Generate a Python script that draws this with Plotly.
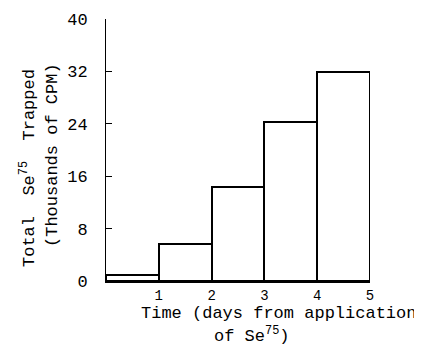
import plotly.graph_objects as go

# Data
day_centers = [0.5, 1.5, 2.5, 3.5, 4.5]
se_trapped = [0.9, 5.7, 14.3, 24.3, 31.9]  # thousands of CPM
x_tick_vals = [1, 2, 3, 4, 5]
x_tick_text = ["1", "2", "3", "4", "5"]
y_tick_vals = [0, 8, 16, 24, 32, 40]
y_tick_text = ["0", "8", "16", "24", "32", "40"]

FONT = "Liberation Mono, DejaVu Sans Mono, monospace"
OFF = 8  # page body margin offset

L, R, T, B = 106 - OFF, 370 - OFF, 19 - OFF, 281 - OFF
W, H = 422 - OFF, 352 - OFF
PW, PH = R - L, B - T


def px(xw):
    return (xw - OFF - L) / PW


def py(yw):
    return (B - (yw - OFF)) / PH


fig = go.Figure()
fig.add_trace(go.Bar(
    x=day_centers, y=se_trapped, width=1,
    marker=dict(color="white", line=dict(color="black", width=2)),
    showlegend=False, hoverinfo="skip",
))

fig.update_layout(
    width=W, height=H,
    margin=dict(l=L, r=W - R, t=T, b=H - B, autoexpand=False),
    plot_bgcolor="white", paper_bgcolor="white",
    font=dict(family=FONT, color="black"),
    bargap=0,
    xaxis=dict(
        range=[0, 5], tickmode="array", tickvals=x_tick_vals, ticktext=x_tick_text,
        showgrid=False, zeroline=False, showline=True, linecolor="black", linewidth=1.5,
        ticks="", tickfont=dict(size=14, family=FONT, color="black"),
    ),
    yaxis=dict(
        range=[0, 40], tickmode="array", tickvals=y_tick_vals, ticktext=y_tick_text,
        showgrid=False, zeroline=False, showline=True, linecolor="black", linewidth=1,
        ticks="inside", ticklen=6, tickwidth=1, tickcolor="black",
        ticklabelstandoff=14,
        tickfont=dict(size=17, family=FONT, color="black"),
    ),
    annotations=[
        dict(text="Total  Se<sup>75</sup>  Trapped", xref="paper", yref="paper",
             x=px(28), y=py(168), textangle=-90, showarrow=False,
             font=dict(size=17, family=FONT, color="black"), xanchor="center", yanchor="middle"),
        dict(text="(Thousands of CPM)", xref="paper", yref="paper",
             x=px(52), y=py(155), textangle=-90, showarrow=False,
             font=dict(size=17, family=FONT, color="black"), xanchor="center", yanchor="middle"),
        dict(text="Time (days from application", xref="paper", yref="paper",
             x=px(278), y=py(313), showarrow=False,
             font=dict(size=17, family=FONT, color="black"), xanchor="center", yanchor="middle"),
        dict(text="of Se<sup>75</sup>)", xref="paper", yref="paper",
             x=px(252), y=py(335), showarrow=False,
             font=dict(size=17, family=FONT, color="black"), xanchor="center", yanchor="middle"),
    ],
)

fig.write_html("out.html")
